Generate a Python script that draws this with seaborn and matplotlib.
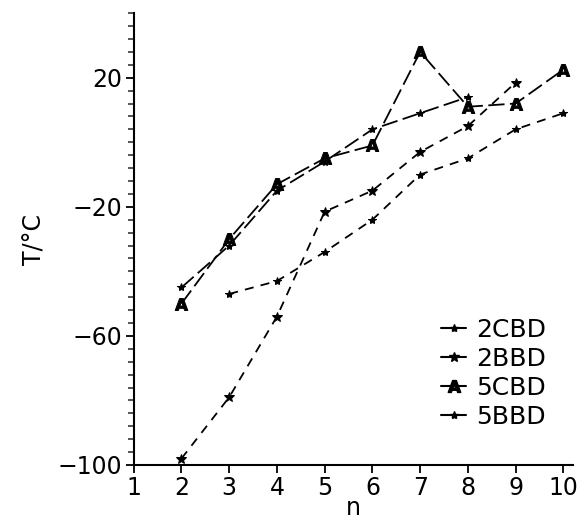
import numpy as np
import pandas as pd
import matplotlib
matplotlib.use("Agg")
import matplotlib.pyplot as plt
import seaborn as sns
from matplotlib.ticker import MultipleLocator
from matplotlib.lines import Line2D

# Werte
n_2cbd = [3, 4, 5, 6, 7, 8, 9, 10]
t_2cbd = [-47, -43, -34, -24, -10, -5, 4, 9]

n_2bbd = [2, 3, 4, 5, 6, 7, 8, 9]
t_2bbd = [-98, -79, -54, -21.5, -15, -3, 5, 18.5]

n_5cbd = [2, 3, 4, 5, 6, 7, 8, 9, 10]
t_5cbd = [-50, -30, -13, -5, -1, 28, 11, 12, 22.5]

n_5bbd = [2, 3, 4, 5, 6, 7, 8]
t_5bbd = [-45, -32, -15, -6, 4, 9, 14]

labels = ["2CBD", "2BBD", "5CBD", "5BBD"]

sns.set_theme(style="ticks")
plt.rcParams['font.family'] = ['DejaVu Sans']
plt.rcParams['text.color'] = 'black'

fig = plt.figure(figsize=(5.84, 5.26), dpi=100)
ax = fig.add_axes([0.229, 0.116, 0.752, 0.859])

series = [
    (n_2cbd, t_2cbd, "*", 6, (0, (5, 4))),
    (n_2bbd, t_2bbd, "*", 7, (0, (5, 4))),
    (n_5cbd, t_5cbd, r"$\mathbf{A}$", 9, (0, (9, 3))),
    (n_5bbd, t_5bbd, "*", 6, (0, (9, 3))),
]

handles = []
for (xs, ys, mk, ms, ls), lab in zip(series, labels):
    df = pd.DataFrame({"n": xs, "T": ys})
    sns.lineplot(data=df, x="n", y="T", ax=ax, color="black", marker=mk,
                 markersize=ms, markeredgecolor="black", linewidth=1.3,
                 linestyle=ls, legend=False)
    handles.append(Line2D([], [], color="black", marker=mk, markersize=ms,
                          linewidth=1.5, markevery=[1]))

ax.set_xlim(1, 10.2)
ax.set_ylim(-100, 40)
ax.set_xticks(range(1, 11))
ax.set_yticks([20, -20, -60, -100])
ax.yaxis.set_minor_locator(MultipleLocator(4))
ax.tick_params(axis="both", which="major", labelsize=17, width=1.3, length=6,
               colors="black", direction="out", pad=2)
ax.tick_params(axis="y", which="minor", width=1.1, length=4, direction="out")
for s in ["top", "right"]:
    ax.spines[s].set_visible(False)
for s in ["left", "bottom"]:
    ax.spines[s].set_linewidth(1.5)
    ax.spines[s].set_color("black")

ax.set_xlabel("n", fontsize=17, labelpad=-3, color="black")
ax.set_ylabel("T/°C", fontsize=17, labelpad=8, color="black")

leg = ax.legend(handles, labels, frameon=False, fontsize=18, handlelength=1.0,
                handletextpad=0.4, labelspacing=0.2, loc="lower right",
                bbox_to_anchor=(0.99, 0.03))
for t in leg.get_texts():
    t.set_color("black")

fig.savefig("out.png", dpi=100)
